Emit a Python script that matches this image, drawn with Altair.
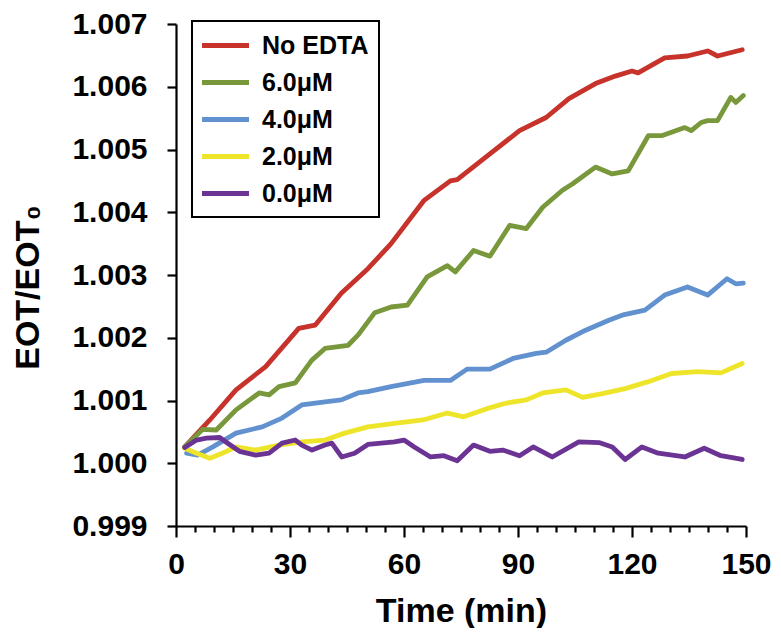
import altair as alt
import pandas as pd

series_names = ["No EDTA", "6.0μM", "4.0μM", "2.0μM", "0.0μM"]
series_colors = ["#C7322B", "#78983B", "#6291CF", "#EEE52B", "#6B3494"]

red_t = [2.3, 8.9, 15.8, 23.6, 32.3, 36.6, 43.5, 50.5, 56.6, 65.3, 72.2, 74, 82.6, 90.4, 97.4, 103.4, 110.4, 115.6, 120, 121.6, 128.6, 134.6, 139.9, 142.5, 149]
red_v = [1.00026, 1.00069, 1.00117, 1.00154, 1.00215, 1.00220, 1.00271, 1.00310, 1.00350, 1.00419, 1.00450, 1.00452, 1.00493, 1.00530, 1.00551, 1.00581, 1.00605, 1.00617, 1.00625, 1.00622, 1.00646, 1.00649, 1.00657, 1.00649, 1.00659]

green_t = [2.3, 7, 10.6, 15.8, 21.9, 24.5, 27.1, 31.4, 35.7, 39.2, 45.3, 48, 52.3, 56.6, 60.9, 66.1, 71.4, 73.5, 78.3, 82.6, 87.8, 92.2, 96.5, 101.7, 104.3, 110.4, 114.8, 119, 124.3, 127.8, 133.9, 135.6, 138.2, 139.9, 142.5, 146, 147.3, 149.3]
green_v = [1.00026, 1.00054, 1.00053, 1.00085, 1.00112, 1.00109, 1.00122, 1.00128, 1.00164, 1.00183, 1.00188, 1.00205, 1.00240, 1.00249, 1.00252, 1.00297, 1.00315, 1.00305, 1.00339, 1.00330, 1.00379, 1.00374, 1.00408, 1.00435, 1.00445, 1.00472, 1.00461, 1.00466, 1.00522, 1.00522, 1.00535, 1.00530, 1.00543, 1.00546, 1.00546, 1.00583, 1.00575, 1.00586]

blue_t = [2.8, 5.7, 9.7, 15.8, 22.7, 27.9, 33.1, 39.2, 43.5, 47.9, 50.5, 56.6, 65.3, 72.2, 76.6, 82.6, 88.7, 94.8, 97.4, 102.6, 107.8, 113.9, 117.4, 123.4, 128.6, 134.6, 139.9, 145, 147.3, 149.3]
blue_v = [1.00016, 1.00013, 1.00026, 1.00048, 1.00058, 1.00072, 1.00093, 1.00098, 1.00101, 1.00112, 1.00114, 1.00122, 1.00132, 1.00132, 1.00150, 1.00150, 1.00167, 1.00175, 1.00177, 1.00196, 1.00212, 1.00228, 1.00236, 1.00244, 1.00268, 1.00281, 1.00268, 1.00294, 1.00286, 1.00287]

yellow_t = [2.3, 5.4, 8.9, 12.2, 15.8, 21, 27.1, 33.1, 39.2, 44.4, 50.5, 58, 65, 71.4, 75.7, 81.8, 87, 92.2, 96.5, 102.6, 107, 112.2, 118.2, 124.3, 130.4, 137.3, 143.4, 146, 149]
yellow_v = [1.00024, 1.00016, 1.00008, 1.00016, 1.00026, 1.00021, 1.00029, 1.00034, 1.00037, 1.00048, 1.00058, 1.00064, 1.00069, 1.00080, 1.00074, 1.00087, 1.00096, 1.00101, 1.00112, 1.00117, 1.00105, 1.00111, 1.00119, 1.00130, 1.00143, 1.00146, 1.00144, 1.00151, 1.00159]

purple_t = [2.3, 5.4, 8, 11.5, 13.6, 16.7, 21, 24.5, 27.9, 31.4, 33.1, 35.8, 39.2, 41, 43.6, 47, 50.5, 57.5, 60, 62.7, 67, 70.5, 74, 78.3, 82.6, 86, 90.4, 94, 99, 106, 111.3, 114.8, 118.2, 122.6, 126.9, 133.9, 139, 143.4, 149]
purple_v = [1.00025, 1.00037, 1.00040, 1.00041, 1.00032, 1.00019, 1.00013, 1.00016, 1.00032, 1.00037, 1.00029, 1.00021, 1.00029, 1.00032, 1.00010, 1.00016, 1.00030, 1.00034, 1.00037, 1.00026, 1.00010, 1.00012, 1.00004, 1.00029, 1.00019, 1.00021, 1.00012, 1.00026, 1.00010, 1.00034, 1.00033, 1.00026, 1.00006, 1.00026, 1.00016, 1.00010, 1.00024, 1.00012, 1.00006]

y_ticks = [0.999, 1.000, 1.001, 1.002, 1.003, 1.004, 1.005, 1.006, 1.007]
x_ticks = list(range(0, 151, 5))

rows = []
for k, (name, ts, vs) in enumerate(zip(series_names,
                        [red_t, green_t, blue_t, yellow_t, purple_t],
                        [red_v, green_v, blue_v, yellow_v, purple_v])):
    for i, (t, v) in enumerate(zip(ts, vs)):
        rows.append({"series": name, "t": t, "v": v, "i": i, "z": -k})
df = pd.DataFrame(rows)

FONT = "Liberation Sans"

chart = alt.Chart(df).mark_line(strokeWidth=4.8, strokeCap="round", strokeJoin="round").encode(
    x=alt.X("t:Q", scale=alt.Scale(domain=[0, 150], nice=False, zero=False),
            axis=alt.Axis(values=x_ticks, title="Time (min)",
                          labelExpr="datum.value % 30 == 0 ? datum.label : ''",
                          tickSize={"condition": {"test": "datum.value % 30 === 0", "value": 11}, "value": 6},
                          labelPadding=12, titlePadding=15, titleFontSize=34, labelFlush=False)),
    y=alt.Y("v:Q", scale=alt.Scale(domain=[0.999, 1.007], nice=False, zero=False),
            axis=alt.Axis(values=y_ticks, format=".3f", title="EOT/EOT₀", tickSize=9,
                          labelPadding=20, titlePadding=26, titleFontSize=34, titleY=263)),
    color=alt.Color("series:N", scale=alt.Scale(domain=series_names, range=series_colors),
                    legend=alt.Legend(title=None, orient="none", legendX=16, legendY=-3,
                                      strokeColor="black", padding=10,
                                      symbolType="M-2,0H2", symbolSize=552, symbolStrokeWidth=5,
                                      symbolOffset=9,
                                      labelFontSize=25, labelFont=FONT, labelFontWeight="bold",
                                      labelOffset=22, rowPadding=9, labelColor="black")),
    detail=alt.Detail("z:Q"),
    order=alt.Order("i:Q"),
).properties(
    width=570, height=502,
    padding={"left": 168, "top": 16, "right": 27, "bottom": 102},
    autosize=alt.AutoSizeParams(type="none"),
).configure_view(stroke=None).configure_axis(
    domainColor="black", domainWidth=2.2, tickColor="black", tickWidth=2.2,
    labelFont=FONT, labelFontWeight="bold", labelFontSize=30, labelColor="black",
    titleFont=FONT, titleFontWeight="bold", titleColor="black", grid=False,
).configure_legend(strokeWidth=2)

chart.save("out.html", embed_options={"renderer": "svg", "actions": False})
